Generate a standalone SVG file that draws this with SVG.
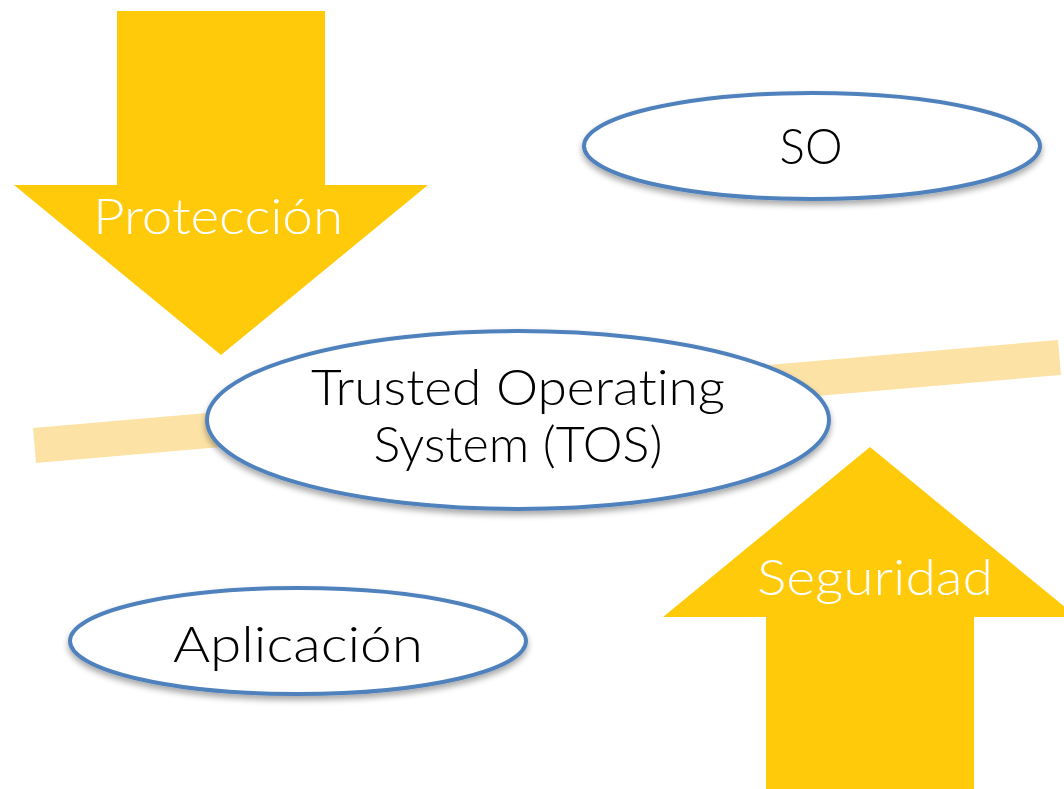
<svg xmlns="http://www.w3.org/2000/svg" width="1064" height="789" viewBox="0 0 1064 789">
<defs>
<filter id="sh" x="-10%" y="-10%" width="120%" height="130%">
<feGaussianBlur in="SourceAlpha" stdDeviation="3"/>
<feOffset dx="0" dy="4" result="b"/>
<feComponentTransfer><feFuncA type="linear" slope="0.35"/></feComponentTransfer>
<feMerge><feMergeNode/><feMergeNode in="SourceGraphic"/></feMerge>
</filter>
</defs>
<style>
.arrow{fill:#FECA0A}
.node{fill:#FFFFFF;stroke:#4F81BD;stroke-width:4}
.lbl{font-family:"Lato","Liberation Sans",Arial,sans-serif;font-weight:300;font-size:50px;text-anchor:middle;font-variant-ligatures:none;font-feature-settings:"liga" 0,"clig" 0}
.dark{fill:#000000}
.light{fill:#FFFFFF}
</style>
<rect width="1064" height="789" fill="#FFFFFF"/>
<g id="band">
<polygon points="33,428 1058,340 1061,375 36,463" fill="#FDE2A6"/>
</g>
<g id="proteccion">
<polygon class="arrow" points="117,11 325,11 325,185 428,185 221,355 14,185 117,185"/>
<text class="lbl light" x="218" y="234" textLength="250" lengthAdjust="spacingAndGlyphs">Protección</text>
</g>
<g id="seguridad">
<polygon class="arrow" points="870,447 1077,617 974,617 974,789 766,789 766,617 663,617"/>
<text class="lbl light" x="875" y="595" textLength="236" lengthAdjust="spacingAndGlyphs">Seguridad</text>
</g>
<g id="so">
<ellipse class="node" cx="812" cy="146" rx="228" ry="53" filter="url(#sh)"/>
<text class="lbl dark" x="811" y="164" font-size="45" textLength="63" lengthAdjust="spacingAndGlyphs">SO</text>
</g>
<g id="tos">
<ellipse class="node" cx="518" cy="420" rx="311" ry="89" filter="url(#sh)"/>
<text class="lbl dark" x="518" y="405" textLength="414" lengthAdjust="spacingAndGlyphs">Trusted Operating</text>
<text class="lbl dark" x="518" y="462" textLength="289" lengthAdjust="spacingAndGlyphs">System (TOS)</text>
</g>
<g id="aplicacion">
<ellipse class="node" cx="298" cy="641" rx="228" ry="53" filter="url(#sh)"/>
<text class="lbl dark" x="298" y="662" textLength="250" lengthAdjust="spacingAndGlyphs">Aplicación</text>
</g>
<g id="connectors"></g>
</svg>
